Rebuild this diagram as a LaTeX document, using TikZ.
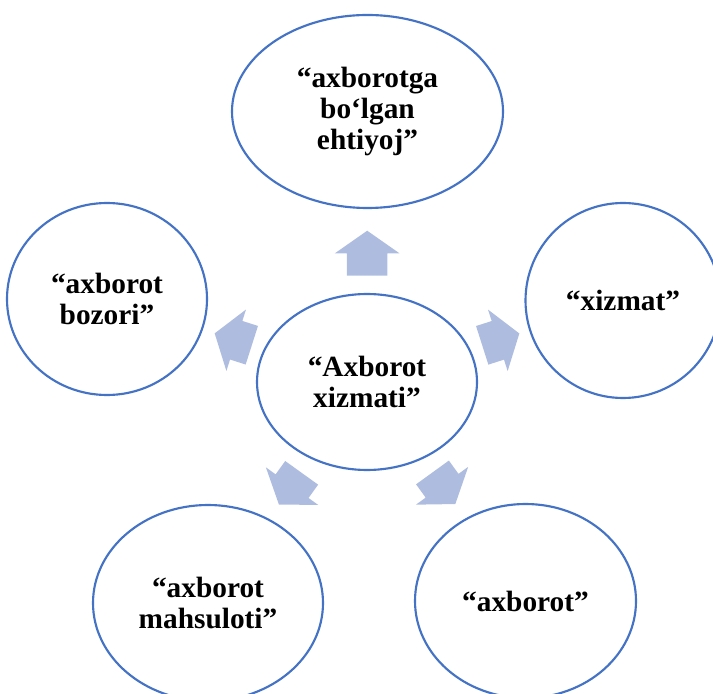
\documentclass[tikz,border=0pt]{standalone}
\usepackage{fontspec}
\setmainfont{Liberation Serif}
\usetikzlibrary{shapes.geometric,shapes.arrows,calc}
\definecolor{ringblue}{RGB}{68,114,196}
\definecolor{spokefill}{RGB}{174,189,223}
\tikzset{
  bubble/.style={ellipse, draw=ringblue, line width=1.6pt, fill=white,
    inner sep=0pt, align=center, font=\bfseries\fontsize{22}{23}\selectfont},
  spoke/.style={single arrow, fill=spokefill, draw=none, inner xsep=0pt,
    inner ysep=15pt, single arrow head extend=9pt, anchor=tail,
    single arrow tip angle=110, minimum height=29.25pt},
}
\begin{document}
\begin{tikzpicture}[x=0.75pt,y=0.75pt]
      \useasboundingbox (0,0) rectangle (713,693);
      \clip (0,0) rectangle (713,693);
      % centre and the five around it
      \node[bubble, minimum width=165pt, minimum height=132pt] (hub) at (367,311) {“Axborot\\xizmati”};
      \node[bubble, minimum width=203.25pt, minimum height=144.75pt] (ehtiyoj) at (367.5,581.5) {“axborotga\\bo‘lgan\\ehtiyoj”};
      \node[bubble, minimum width=146.25pt, minimum height=146.25pt] (xizmat) at (623,392.5) {“xizmat”};
      \node[bubble, minimum width=165.75pt, minimum height=145.5pt] (axborot) at (525.5,92) {“axborot”};
      \node[bubble, minimum width=172.5pt, minimum height=147pt] (mahsulot) at (208,90) {“axborot\\mahsuloti”};
      \node[bubble, minimum width=150pt, minimum height=144pt] (bozor) at (107,394) {“axborot\\bozori”};
      % block arrows
      \node[spoke, rotate=90, minimum height=33.75pt] (s1) at ($(hub)!0.392!(ehtiyoj)$) {};
      \node[spoke, rotate=17.7] (s2) at ($(hub)!0.449!(xizmat)$) {};
      \node[spoke, rotate=305.9] (s3) at ($(hub)!0.412!(axborot)$) {};
      \node[spoke, rotate=234.3] (s4) at ($(hub)!0.41!(mahsulot)$) {};
      \node[spoke, rotate=162.3] (s5) at ($(hub)!0.442!(bozor)$) {};
\end{tikzpicture}
\end{document}
